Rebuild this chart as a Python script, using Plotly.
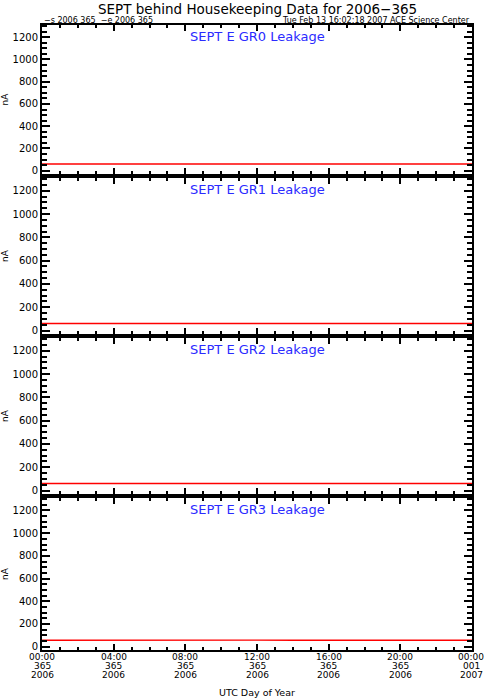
import plotly.graph_objects as go

panel_titles = ["SEPT E GR0 Leakage", "SEPT E GR1 Leakage", "SEPT E GR2 Leakage", "SEPT E GR3 Leakage"]
hours = [0, 2, 4, 6, 8, 10, 12, 14, 16, 18, 20, 22, 24]
gr0 = [60, 60, 60, 60, 60, 60, 60, 60, 60, 60, 60, 60, 60]
gr1 = [60, 60, 60, 60, 60, 60, 60, 60, 60, 60, 60, 60, 60]
gr2 = [60, 60, 60, 60, 60, 60, 60, 60, 60, 60, 60, 60, 60]
gr3 = [56, 57, 56, 57, 56, 56, 57, 56, 57, 56, 57, 56, 56]
series = [gr0, gr1, gr2, gr3]
x_tickvals = [0, 4, 8, 12, 16, 20, 24]
x_time = ["00:00", "04:00", "08:00", "12:00", "16:00", "20:00", "00:00"]
x_doy = ["365", "365", "365", "365", "365", "365", "001"]
x_year = ["2006", "2006", "2006", "2006", "2006", "2006", "2007"]
y_tickvals = [0, 200, 400, 600, 800, 1000, 1200]

W, H = 485, 699
ml, mr, mt, mb = 42, 13, 24, 49
ph = H - mt - mb
panels_px = [(25, 174), (178, 334), (338, 494), (498, 650)]
bottom_px = H - mb

fig = go.Figure()
font = "DejaVu Sans, Liberation Sans, sans-serif"
for i, (vals, title) in enumerate(zip(series, panel_titles)):
    n = "" if i == 0 else str(i + 1)
    fig.add_trace(go.Scatter(x=hours, y=vals, mode="lines",
                             line=dict(color="#ff0000", width=1.4),
                             xaxis="x" + n, yaxis="y" + n, showlegend=False))
    t, b = panels_px[i]
    dom = [(bottom_px - b) / ph, (bottom_px - t) / ph]
    fig.layout["xaxis" + n] = dict(
        domain=[0, 1], anchor="y" + n, range=[0, 24],
        tickmode="array", tickvals=x_tickvals, showticklabels=False,
        ticks="inside", ticklen=6, tickwidth=2, tickcolor="black",
        minor=dict(tickmode="linear", dtick=1, tick0=0, ticks="inside", ticklen=3, tickwidth=1.5, tickcolor="black"),
        showline=True, linecolor="black", linewidth=1.5, mirror="allticks",
        showgrid=False, zeroline=False,
    )
    fig.layout["yaxis" + n] = dict(
        domain=dom, anchor="x" + n, range=[-30, 1310],
        tickmode="array", tickvals=y_tickvals, ticks="inside", ticklen=8, tickwidth=2, tickcolor="black",
        minor=dict(tickmode="linear", dtick=50, tick0=0, ticks="inside", ticklen=5, tickwidth=1.5, tickcolor="black"),
        showline=True, linecolor="black", linewidth=2, mirror="allticks",
        showgrid=False, zeroline=False,
        tickfont=dict(family=font, size=10, color="black"),
        title=dict(text="nA", font=dict(family=font, size=9, color="black"), standoff=12),
    )
    fig.add_annotation(text=title, xref="paper", yref="paper", x=0.5, y=dom[1],
                       xanchor="center", yanchor="top", showarrow=False, yshift=-2,
                       font=dict(family=font, size=13, color="#2b2bff"))

# bottom tick labels, three tight lines each
for j, (xv, a, b_, c) in enumerate(zip(x_tickvals, x_time, x_doy, x_year)):
    for k, txt in enumerate([a, b_, c]):
        fig.add_annotation(text=txt, xref="x4", yref="paper", x=xv, y=0,
                           xanchor="center", yanchor="middle", showarrow=False,
                           yshift=-(7 + 9 * k), xshift=(-1 if j == len(x_tickvals) - 1 else 0),
                           font=dict(family=font, size=9, color="black"))
fig.add_annotation(text="UTC Day of Year", xref="paper", yref="paper", x=0.5, y=0,
                   xanchor="center", yanchor="middle", showarrow=False, yshift=-42,
                   font=dict(family=font, size=9.5, color="black"))

fig.add_annotation(text="SEPT behind Housekeeping Data for 2006\u2212365", xref="paper", yref="paper",
                   x=0.5, y=1, yshift=15, xanchor="center", yanchor="middle", showarrow=False,
                   font=dict(family=font, size=13.5, color="black"))
fig.add_annotation(text="\u2212s 2006 365  \u2212e 2006 365", xref="paper", yref="paper",
                   x=0, y=1, yshift=4, xanchor="left", yanchor="middle", showarrow=False,
                   font=dict(family=font, size=8, color="black"))
fig.add_annotation(text="Tue Feb 13 16:02:18 2007 ACE Science Center", xref="paper", yref="paper",
                   x=1, y=1, yshift=4, xanchor="right", yanchor="middle", showarrow=False,
                   font=dict(family=font, size=8, color="black"))

fig.update_layout(width=W, height=H, margin=dict(l=ml, r=mr, t=mt, b=mb, autoexpand=False),
                  paper_bgcolor="white", plot_bgcolor="white")
fig.write_html("out.html", config={"displayModeBar": False},
               post_script="document.body.style.margin='0';document.body.style.overflow='hidden';")
